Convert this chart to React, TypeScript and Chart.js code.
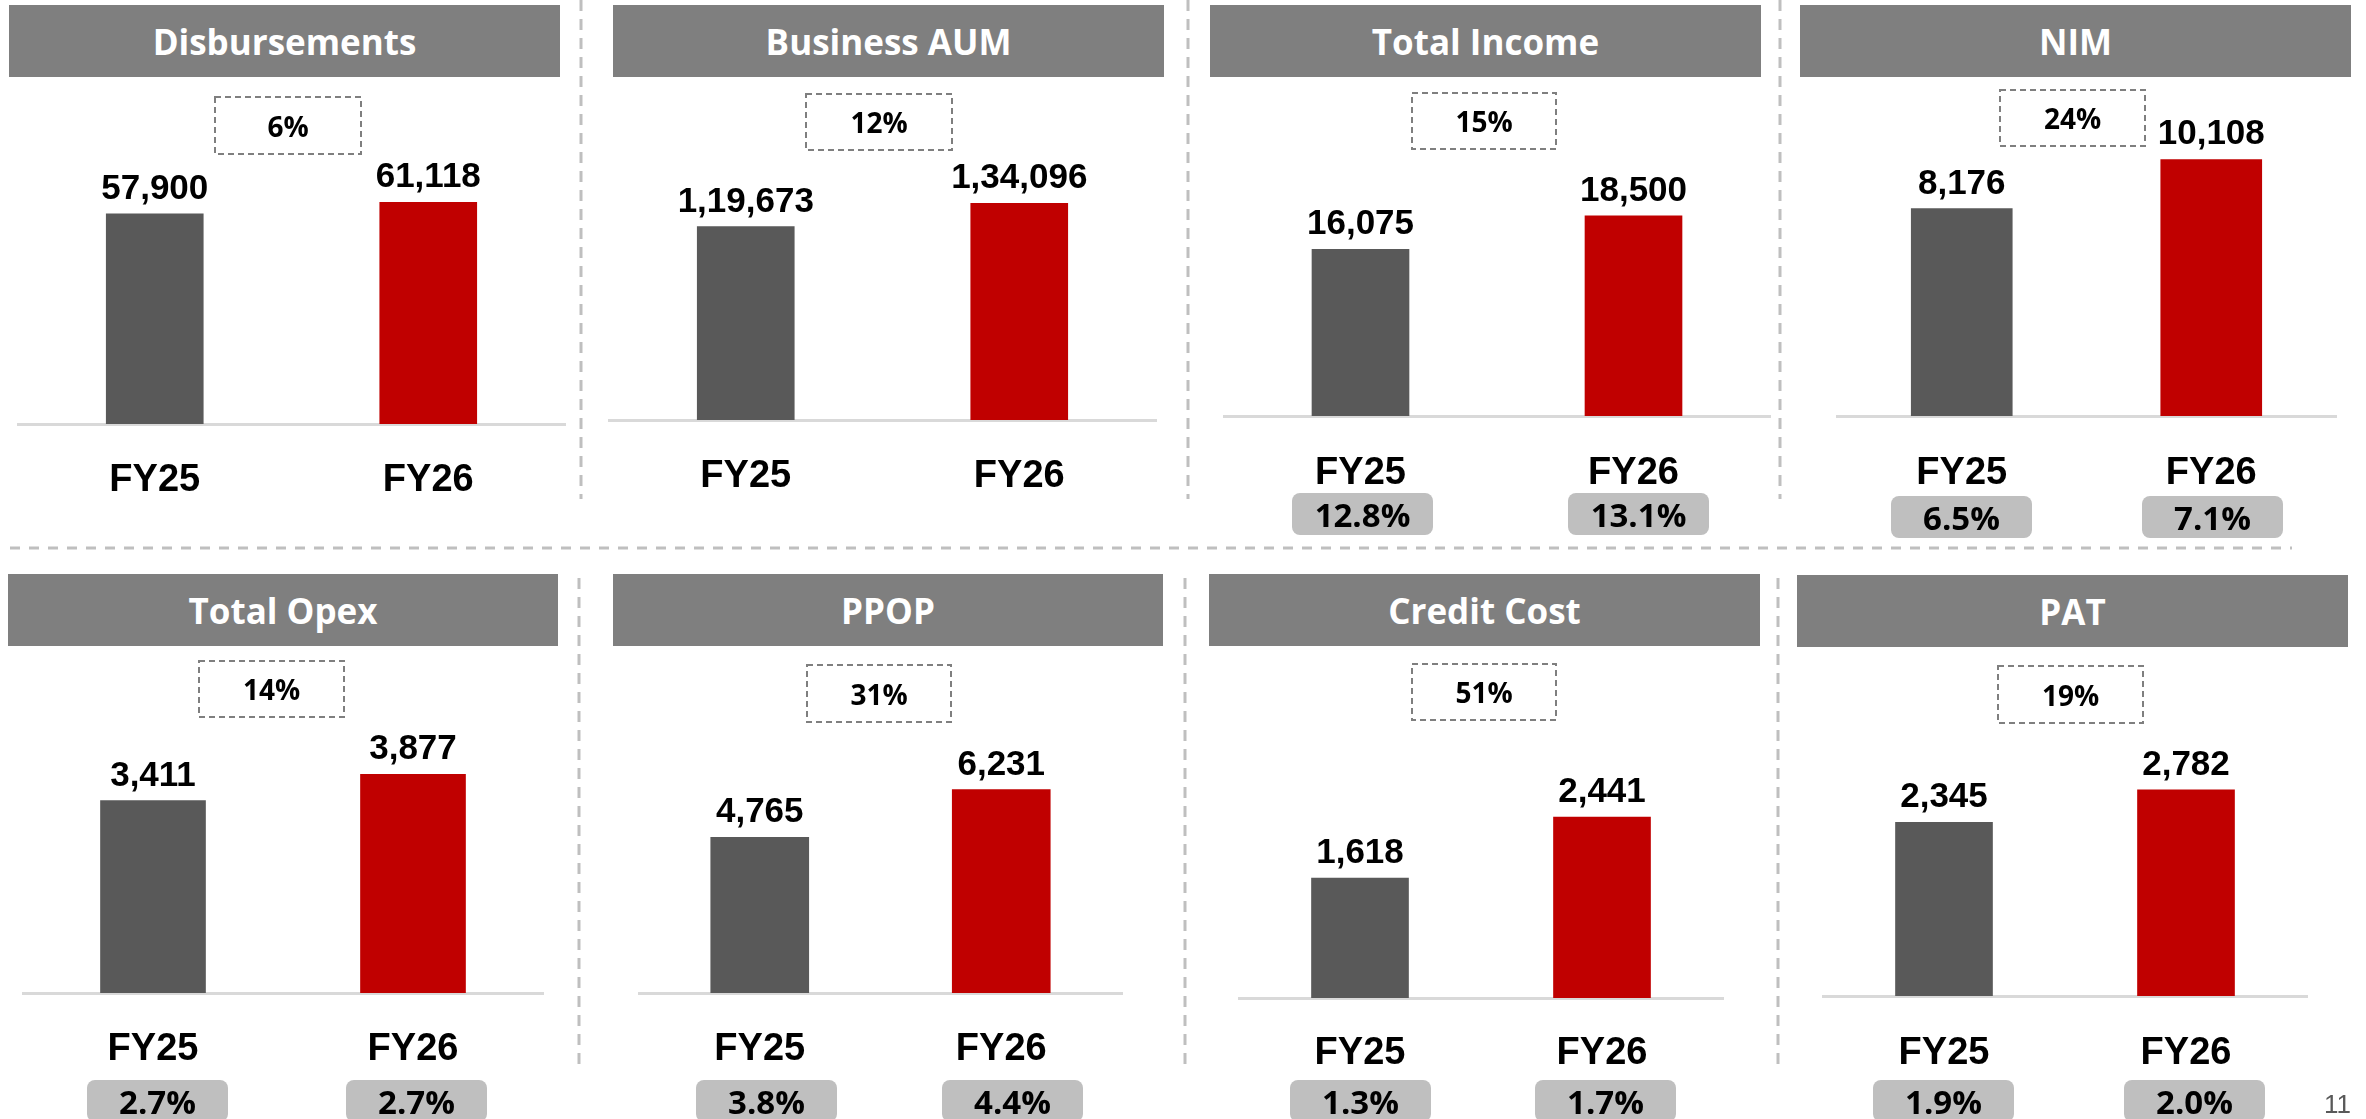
import React, { useEffect, useRef } from 'react';
import { Chart, registerables } from 'chart.js';

Chart.register(...registerables);

// ---------------- DATA ----------------
const categories = ['FY25', 'FY26'];
const panelTitles = ['Disbursements', 'Business AUM', 'Total Income', 'NIM', 'Total Opex', 'PPOP', 'Credit Cost', 'PAT'];
const disbursements = [57900, 61118];
const businessAum = [119673, 134096];
const totalIncome = [16075, 18500];
const nim = [8176, 10108];
const totalOpex = [3411, 3877];
const ppop = [4765, 6231];
const creditCost = [1618, 2441];
const pat = [2345, 2782];
const growthLabels = ['6%', '12%', '15%', '24%', '14%', '31%', '51%', '19%'];
const totalIncomeRatio = ['12.8%', '13.1%'];
const nimRatio = ['6.5%', '7.1%'];
const opexRatio = ['2.7%', '2.7%'];
const ppopRatio = ['3.8%', '4.4%'];
const creditCostRatio = ['1.3%', '1.7%'];
const patRatio = ['1.9%', '2.0%'];
const axisMin = [0, 0, 4000, 0, 0, 0, 0, 0];
const axisMax = [94800, 210400, 28350, 13240, 6082, 10505, 4693, 4669];
const pageNumber = '11';

// ---------------- LAYOUT ----------------
type Rect = [number, number, number, number];
type PanelCfg = {
  title: string;
  values: number[];
  growth: string;
  ratios: string[] | null;
  min: number;
  max: number;
  canvas: Rect;
  axis: [number, number];
  chartTop: number;
  baseline: number;
  barThickness: number;
  fyBaseline: number;
  header: Rect;
  box: Rect;
  pillY: number;
  pillX: number[];
};

const seriesList = [disbursements, businessAum, totalIncome, nim, totalOpex, ppop, creditCost, pat];
const ratioList: (string[] | null)[] = [null, null, totalIncomeRatio, nimRatio, opexRatio, ppopRatio, creditCostRatio, patRatio];

const layouts = [
  { canvas: [0, 78, 580, 470], axis: [18, 565], chartTop: 80, baseline: 424, barThickness: 97, fyBaseline: 491, header: [9, 5, 551, 72], box: [214, 96, 148, 59], pillY: 0, pillX: [] },
  { canvas: [584, 78, 602, 470], axis: [609, 1156], chartTop: 80, baseline: 420, barThickness: 97, fyBaseline: 487, header: [613, 5, 551, 72], box: [805, 93, 148, 58], pillY: 0, pillX: [] },
  { canvas: [1190, 78, 588, 470], axis: [1224, 1770], chartTop: 80, baseline: 416, barThickness: 97, fyBaseline: 484, header: [1210, 5, 551, 72], box: [1411, 92, 146, 58], pillY: 493, pillX: [1292, 1568] },
  { canvas: [1782, 78, 584, 470], axis: [1837, 2336], chartTop: 80, baseline: 416, barThickness: 101, fyBaseline: 484, header: [1800, 5, 551, 72], box: [1999, 89, 147, 58], pillY: 496, pillX: [1891, 2142] },
  { canvas: [0, 648, 578, 471], axis: [23, 543], chartTop: 650, baseline: 993, barThickness: 105, fyBaseline: 1060, header: [8, 574, 550, 72], box: [198, 660, 147, 58], pillY: 1080, pillX: [87, 346] },
  { canvas: [582, 648, 601, 471], axis: [639, 1122], chartTop: 650, baseline: 993, barThickness: 98, fyBaseline: 1060, header: [613, 574, 550, 72], box: [806, 664, 146, 59], pillY: 1080, pillX: [696, 942] },
  { canvas: [1188, 648, 588, 471], axis: [1239, 1723], chartTop: 650, baseline: 998, barThickness: 97, fyBaseline: 1064, header: [1209, 574, 551, 72], box: [1411, 663, 146, 58], pillY: 1080, pillX: [1290, 1535] },
  { canvas: [1780, 648, 586, 471], axis: [1823, 2307], chartTop: 650, baseline: 996, barThickness: 97, fyBaseline: 1064, header: [1797, 575, 551, 72], box: [1997, 665, 147, 59], pillY: 1080, pillX: [1873, 2124] },
];

const panels: PanelCfg[] = layouts.map((l, i) => ({
  ...(l as any),
  title: panelTitles[i],
  values: seriesList[i],
  growth: growthLabels[i],
  ratios: ratioList[i],
  min: axisMin[i],
  max: axisMax[i],
}));

const BAR_COLORS = ['#595959', '#C00000'];
const HEADER_BG = '#7F7F7F';
const PILL_BG = '#BFBFBF';
const SEP_COLOR = '#BFBFBF';

function fmtIN(v: number): string {
  const s = String(Math.round(v));
  if (s.length <= 3) return s;
  const last3 = s.slice(-3);
  let rest = s.slice(0, -3);
  const parts: string[] = [];
  while (rest.length > 2) {
    parts.unshift(rest.slice(-2));
    rest = rest.slice(0, -2);
  }
  if (rest) parts.unshift(rest);
  return parts.join(',') + ',' + last3;
}

function Panel({ cfg }: { cfg: PanelCfg }) {
  const ref = useRef<HTMLCanvasElement | null>(null);
  const [cx, cy, cw, ch] = cfg.canvas;

  useEffect(() => {
    if (!ref.current) return;
    const labelPlugin = {
      id: 'panelLabels',
      afterDatasetsDraw(chart: any) {
        const ctx = chart.ctx;
        const meta = chart.getDatasetMeta(0);
        ctx.save();
        ctx.fillStyle = '#000000';
        ctx.textAlign = 'center';
        ctx.textBaseline = 'alphabetic';
        ctx.font = 'bold 35px "Liberation Sans", Arial, sans-serif';
        meta.data.forEach((bar: any, i: number) => {
          ctx.fillText(fmtIN(cfg.values[i]), bar.x, bar.y - 15);
        });
        ctx.font = 'bold 38px "Liberation Sans", Arial, sans-serif';
        categories.forEach((c, i) => {
          ctx.fillText(c, chart.scales.x.getPixelForValue(i), cfg.fyBaseline - cy);
        });
        ctx.restore();
      },
    };

    const chart = new Chart(ref.current, {
      type: 'bar',
      data: {
        labels: categories,
        datasets: [
          {
            data: cfg.values,
            backgroundColor: BAR_COLORS,
            borderWidth: 0,
            barThickness: cfg.barThickness,
          },
        ],
      },
      options: {
        animation: false,
        responsive: false,
        maintainAspectRatio: false,
        devicePixelRatio: 1,
        events: [],
        layout: {
          padding: {
            left: cfg.axis[0] - cx,
            right: cx + cw - cfg.axis[1],
            top: cfg.chartTop - cy,
            bottom: cy + ch - cfg.baseline,
          },
        },
        plugins: {
          legend: { display: false },
          tooltip: { enabled: false },
        },
        scales: {
          x: {
            display: true,
            grid: { display: false, drawTicks: false, tickLength: 0 },
            ticks: { display: false },
            border: { display: true, color: '#D9D9D9', width: 3 },
          },
          y: {
            display: false,
            min: cfg.min,
            max: cfg.max,
          },
        },
      },
      plugins: [labelPlugin],
    } as any);
    return () => chart.destroy();
  }, [cfg]);

  const [hx, hy, hw, hh] = cfg.header;
  const [bx, by, bw, bh] = cfg.box;
  return (
    <>
      <div
        style={{
          position: 'absolute', left: hx, top: hy, width: hw, height: hh, background: HEADER_BG,
          color: '#FFFFFF', font: 'bold 35px "Open Sans", "Noto Sans", sans-serif',
          display: 'flex', alignItems: 'center', justifyContent: 'center', lineHeight: 1,
        }}
      >
        {cfg.title}
      </div>
      <canvas
        ref={ref}
        width={cw}
        height={ch}
        style={{ position: 'absolute', left: cx, top: cy, width: cw, height: ch }}
      />
      <div
        style={{
          position: 'absolute', left: bx, top: by, width: bw, height: bh,
          color: '#000000', font: 'bold 28px "Open Sans", "Noto Sans", sans-serif',
          display: 'flex', alignItems: 'center', justifyContent: 'center', lineHeight: 1,
        }}
      >
        {cfg.growth}
      </div>
      {cfg.ratios &&
        cfg.ratios.map((r, i) => (
          <div
            key={i}
            style={{
              position: 'absolute', left: cfg.pillX[i], top: cfg.pillY, width: 141, height: 42,
              background: PILL_BG, borderRadius: 8, color: '#000000',
              font: 'bold 33px "Open Sans", "Noto Sans", sans-serif',
              display: 'flex', alignItems: 'center', justifyContent: 'center', lineHeight: 1,
            }}
          >
            {r}
          </div>
        ))}
    </>
  );
}

function Decorations() {
  const vRow1 = [581, 1188, 1780];
  const vRow2 = [579, 1185, 1778];
  return (
    <svg
      width={2366}
      height={1119}
      style={{ position: 'absolute', left: 0, top: 0, pointerEvents: 'none' }}
    >
      {vRow1.map((x) => (
        <line key={'a' + x} x1={x} y1={0} x2={x} y2={499} stroke={SEP_COLOR} strokeWidth={3} strokeDasharray="11 8" />
      ))}
      {vRow2.map((x) => (
        <line key={'b' + x} x1={x} y1={578} x2={x} y2={1070} stroke={SEP_COLOR} strokeWidth={3} strokeDasharray="11 8" />
      ))}
      <line x1={10} y1={548} x2={2292} y2={548} stroke={SEP_COLOR} strokeWidth={3} strokeDasharray="10 9" />
      {panels.map((p, i) => (
        <rect
          key={i}
          x={p.box[0] + 1}
          y={p.box[1] + 1}
          width={p.box[2] - 2}
          height={p.box[3] - 2}
          fill="none"
          stroke="#7F7F7F"
          strokeWidth={2}
          strokeDasharray="6 4"
        />
      ))}
    </svg>
  );
}

export default function App() {
  return (
    <div
      style={{
        position: 'absolute', left: 0, top: 0, width: 2366, height: 1119,
        overflow: 'hidden', background: '#FFFFFF',
      }}
    >
      <Decorations />
      {panels.map((p, i) => (
        <Panel key={i} cfg={p} />
      ))}
      <div
        style={{
          position: 'absolute', left: 2324, top: 1091, color: '#595959',
          font: '26px "Liberation Sans", Arial, sans-serif', lineHeight: 1,
        }}
      >
        {pageNumber}
      </div>
    </div>
  );
}
